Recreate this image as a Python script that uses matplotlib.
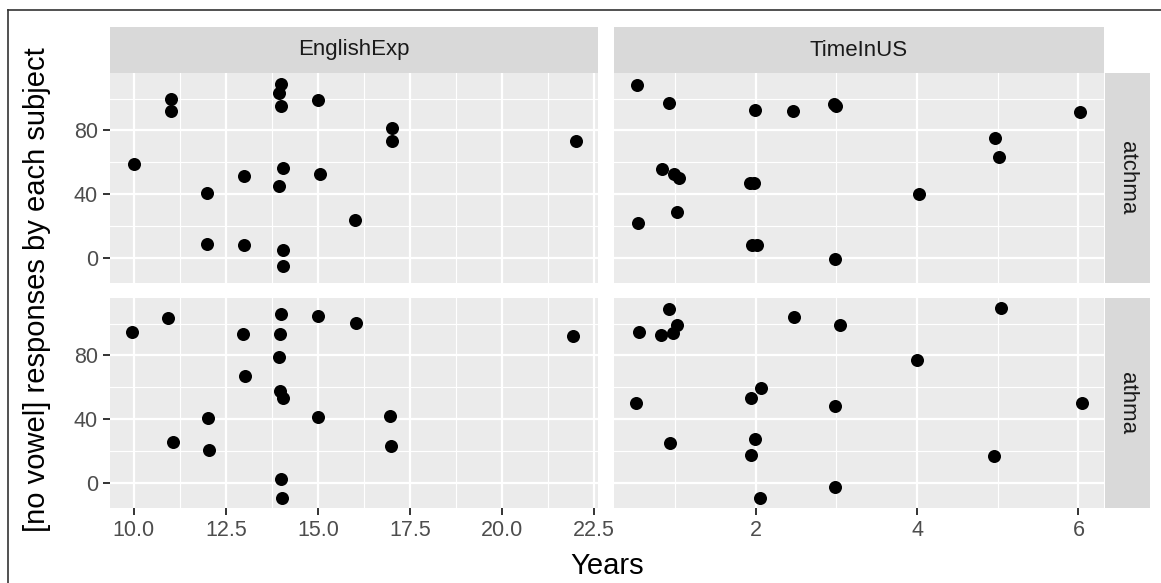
import matplotlib
matplotlib.use("Agg")
import matplotlib.pyplot as plt
from matplotlib.lines import Line2D
import numpy as np

plt.rcParams['font.family'] = ['Liberation Sans', 'DejaVu Sans']

# facet labels
col_labels = ["EnglishExp", "TimeInUS"]
row_labels = ["atchma", "athma"]

# row "atchma"
eng_atchma_x = [10.0, 11.0, 11.0, 14.0, 13.95, 14.0, 15.0, 17.0, 17.0, 22.0,
                14.05, 13.0, 15.05, 13.95, 12.0, 16.0, 12.0, 13.0, 14.05, 14.05]
eng_atchma_y = [59, 99.5, 92, 109, 103.5, 95.5, 99, 81.5, 73.5, 73.5,
                56.5, 51.5, 52.5, 45, 40.5, 23.5, 8.5, 8, 4.5, -5.5]
us_atchma_x = [0.53, 0.93, 1.99, 2.46, 2.97, 3.0, 6.02, 4.96, 5.01, 0.84,
               0.99, 1.05, 1.93, 1.98, 4.02, 1.02, 0.54, 1.95, 2.02, 2.98]
us_atchma_y = [108.5, 97, 93, 92, 96.5, 95.5, 91.5, 75.5, 63, 55.5,
               52.5, 50, 47, 47, 40, 28.5, 21.5, 8, 8, -1]

# row "athma"
eng_athma_x = [9.96, 10.94, 14.01, 14.99, 16.04, 21.92, 12.97, 13.96, 13.94, 13.03,
               13.96, 14.06, 12.03, 15.0, 16.95, 11.07, 12.05, 16.98, 14.01, 14.03]
eng_athma_y = [94.6, 103.6, 106.1, 104.6, 100.3, 91.9, 93.3, 93.3, 79.3, 67,
               57.8, 53.4, 40.6, 41.4, 41.7, 25.8, 20.3, 22.8, 2.3, -10]
us_athma_x = [0.93, 1.02, 0.55, 0.83, 0.98, 2.47, 3.05, 5.04, 4.0, 2.06,
              1.94, 0.52, 2.98, 6.04, 0.94, 1.99, 1.94, 4.95, 2.98, 2.05]
us_athma_y = [109, 99, 95, 92.7, 93.8, 104.2, 99.2, 110.1, 76.8, 59.6,
              53.4, 50.2, 48.3, 50.2, 25.1, 27.4, 17.4, 16.6, -2.7, -9.4]

eng_ticks = [10.0, 12.5, 15.0, 17.5, 20.0, 22.5]
us_ticks = [2, 4, 6]
y_ticks = [0, 40, 80]

data = [[(eng_atchma_x, eng_atchma_y), (us_atchma_x, us_atchma_y)],
        [(eng_athma_x, eng_athma_y), (us_athma_x, us_athma_y)]]


def expand(vals):
    lo, hi = min(vals), max(vals)
    d = (hi - lo) * 0.05
    return lo - d, hi + d


W, H = 1161, 583
fig = plt.figure(figsize=(W / 100, H / 100), dpi=100)

col_x = [(110, 598), (614, 1104)]
row_y = [(73, 283), (298, 508)]

xlims = [expand(eng_atchma_x + eng_athma_x), expand(us_atchma_x + us_athma_x)]
ylim = expand(eng_atchma_y + us_atchma_y + eng_athma_y + us_athma_y)
xticks = [eng_ticks, us_ticks]

panel_bg = '#EBEBEB'
strip_bg = '#D9D9D9'

for r in range(2):
    for c in range(2):
        x0, x1 = col_x[c]
        y0, y1 = row_y[r]
        ax = fig.add_axes([x0 / W, 1 - y1 / H, (x1 - x0) / W, (y1 - y0) / H])
        ax.set_facecolor(panel_bg)
        for s in ax.spines.values():
            s.set_visible(False)
        ax.set_xlim(*xlims[c])
        ax.set_ylim(*ylim)

        xt = xticks[c]
        step = xt[1] - xt[0]
        xminor = np.arange(xt[0] - step / 2, xlims[c][1], step)
        ax.set_xticks(xt)
        ax.set_xticks(xminor[xminor > xlims[c][0]], minor=True)
        ax.set_yticks(y_ticks)
        ax.set_yticks([20, 60, 100], minor=True)
        ax.grid(which='major', color='white', linewidth=1.6)
        ax.grid(which='minor', color='white', linewidth=0.8)
        ax.set_axisbelow(True)

        ax.tick_params(which='minor', length=0)
        ax.tick_params(which='major', length=4.8, width=1.4, color='#333333',
                       labelsize=15.5, labelcolor='#4D4D4D', pad=4)
        if c == 0:
            ax.set_yticklabels([str(v) for v in y_ticks])
        else:
            ax.tick_params(axis='y', which='major', length=0, labelleft=False)
        if r == 1:
            if c == 0:
                ax.set_xticklabels([f'{v:.1f}' for v in xt])
            else:
                ax.set_xticklabels([str(v) for v in xt])
        else:
            ax.tick_params(axis='x', which='major', length=0, labelbottom=False)

        xs, ys = data[r][c]
        ax.scatter(xs, ys, s=88, color='black', linewidths=0, zorder=3)

# top strips
for c in range(2):
    x0, x1 = col_x[c]
    sax = fig.add_axes([x0 / W, 1 - 73 / H, (x1 - x0) / W, 46 / H])
    sax.set_facecolor(strip_bg)
    sax.set_xticks([])
    sax.set_yticks([])
    for s in sax.spines.values():
        s.set_visible(False)
    sax.text(0.5, 0.5, col_labels[c], ha='center', va='center',
             fontsize=16, color='#1A1A1A', transform=sax.transAxes)

# right strips
for r in range(2):
    y0, y1 = row_y[r]
    sax = fig.add_axes([1105 / W, 1 - y1 / H, 45 / W, (y1 - y0) / H])
    sax.set_facecolor(strip_bg)
    sax.set_xticks([])
    sax.set_yticks([])
    for s in sax.spines.values():
        s.set_visible(False)
    sax.text(0.5, 0.5, row_labels[r], ha='center', va='center', rotation=-90,
             fontsize=16, color='#1A1A1A', transform=sax.transAxes)

# axis titles
fig.text(607 / W, 1 - 566 / H, 'Years', ha='center', va='center', fontsize=21)
fig.text(37 / W, 1 - 290 / H, '[no vowel] responses by each subject',
         ha='center', va='center', rotation=90, fontsize=21)

# outer frame lines (left and top)
fig.add_artist(Line2D([8 / W, 8 / W], [0, 1 - 10 / H], color='#333333', linewidth=1.2))
fig.add_artist(Line2D([8 / W, 1], [1 - 10 / H, 1 - 10 / H], color='#333333', linewidth=1.2))

fig.savefig('out.png', dpi=100)
